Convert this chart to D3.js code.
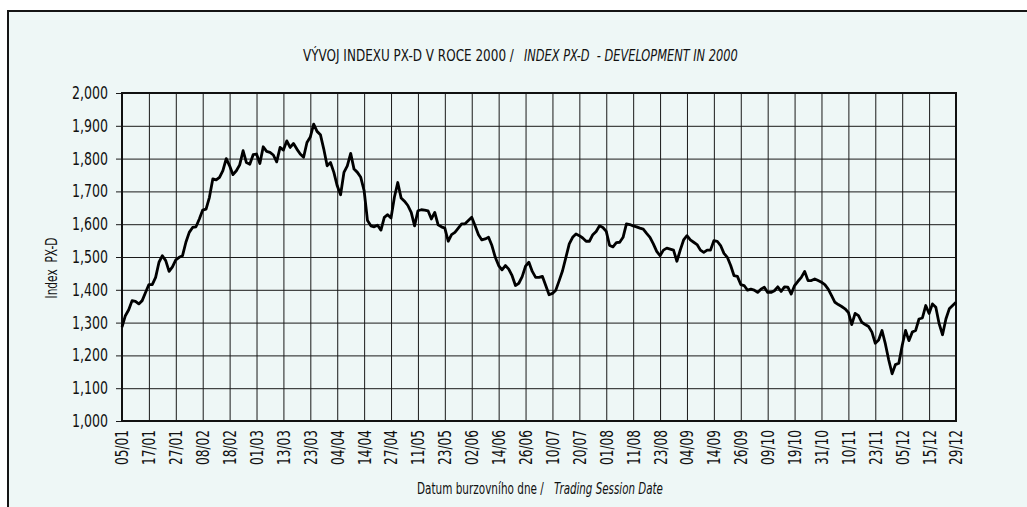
<!DOCTYPE html>
<html lang="cs">
<head>
<meta charset="UTF-8">
<title>Index PX-D 2000</title>
<script src="https://cdn.jsdelivr.net/npm/d3@7/dist/d3.min.js"></script>
<style>
  * { margin: 0; padding: 0; }
  body { background: #fff; width: 1027px; height: 507px; overflow: hidden; }
  svg { display: block; }
  text { font-family: "Liberation Sans Narrow", "DejaVu Sans Condensed", "Roboto", sans-serif; font-stretch: condensed; fill: #111; }
</style>
</head>
<body>
<svg id="chart" width="1027" height="507"></svg>
<script>
// session tick labels (every 8th trading session)
const tickLabels = ['05/01','17/01','27/01','08/02','18/02','01/03','13/03','23/03','04/04','14/04','27/04','11/05',
  '23/05','02/06','14/06','26/06','10/07','20/07','01/08','11/08','23/08','04/09','14/09','26/09','09/10','19/10',
  '31/10','10/11','23/11','05/12','15/12','29/12'];
const yTicks = [1000, 1100, 1200, 1300, 1400, 1500, 1600, 1700, 1800, 1900, 2000];

// daily closing values of PX-D (249 sessions)
const pxd = [
  1286,1321,1339,1367,1365,1357,1367,1392,1416,
  1416,1438,1484,1504,1489,1456,1470,1491,
  1499,1504,1545,1575,1590,1592,1616,1643,
  1646,1682,1738,1735,1743,1763,1800,1778,
  1751,1763,1781,1824,1788,1783,1812,1814,
  1785,1836,1822,1819,1811,1790,1834,1826,
  1854,1834,1846,1829,1814,1804,1849,1866,
  1905,1883,1873,1829,1778,1788,1758,1717,
  1690,1758,1778,1816,1768,1758,1743,1702,
  1611,1595,1592,1597,1582,1621,1629,1619,
  1682,1727,1680,1670,1657,1636,1595,1641,
  1644,1643,1641,1616,1636,1598,1592,1588,
  1548,1568,1575,1588,1601,1601,1611,1621,
  1595,1568,1552,1555,1560,1535,1499,1474,
  1461,1474,1463,1443,1413,1420,1440,1472,
  1484,1456,1438,1438,1441,1413,1385,1389,
  1399,1428,1458,1499,1540,1560,1570,1565,
  1558,1548,1548,1568,1578,1595,1590,1578,
  1535,1531,1544,1545,1560,1601,1599,1595,
  1592,1588,1585,1572,1560,1540,1517,1504,
  1521,1527,1524,1521,1487,1521,1552,1565,
  1552,1545,1538,1521,1514,1521,1521,1550,
  1548,1535,1511,1499,1474,1443,1441,1416,
  1413,1399,1402,1399,1392,1402,1408,1392,
  1392,1397,1409,1395,1409,1408,1387,1413,
  1426,1438,1456,1428,1428,1433,1428,1423,
  1416,1402,1382,1362,1355,1349,1342,1331,
  1294,1328,1321,1301,1294,1288,1271,1237,
  1247,1276,1235,1186,1144,1172,1176,1230,
  1276,1245,1271,1276,1311,1314,1352,1328,
  1357,1347,1296,1263,1311,1342,1352,1362
];

const W = 1027, H = 507;
const plot = { left: 122, right: 956, top: 93, bottom: 421 };
const svg = d3.select('#chart');

// background panel with frame on top + left
svg.append('rect').attr('x', 8).attr('y', 11).attr('width', W - 8).attr('height', H - 11).attr('fill', '#eef7f6');
svg.append('path').attr('d', `M8,${H} V11 H${W}`).attr('fill', 'none').attr('stroke', '#151515').attr('stroke-width', 2);

const x = d3.scaleLinear().domain([0, pxd.length - 1]).range([plot.left, plot.right]);
const y = d3.scaleLinear().domain([1000, 2000]).range([plot.bottom, plot.top]);
const sessionTicks = tickLabels.map((d, i) => i * 8);

// grid
svg.append('g')
  .attr('transform', `translate(0,${plot.bottom})`)
  .call(d3.axisBottom(x).tickValues(sessionTicks).tickSize(-(plot.bottom - plot.top)).tickFormat(''))
  .call(g => g.select('.domain').remove())
  .call(g => g.selectAll('line').attr('stroke', '#1a1a1a').attr('stroke-width', 1));

svg.append('g')
  .attr('transform', `translate(${plot.left},0)`)
  .call(d3.axisLeft(y).tickValues(yTicks).tickSize(plot.left - plot.right).tickFormat(''))
  .call(g => g.select('.domain').remove())
  .call(g => g.selectAll('line').attr('stroke', '#1a1a1a').attr('stroke-width', 1));

// y axis with outer ticks
svg.append('g')
  .attr('transform', `translate(${plot.left},0)`)
  .call(d3.axisLeft(y).tickValues(yTicks).tickSize(6).tickPadding(8).tickFormat(d3.format(',')))
  .call(g => g.select('.domain').remove())
  .call(g => g.selectAll('line').attr('stroke', '#1a1a1a'))
  .call(g => g.selectAll('text').attr('font-size', 17).attr('fill', '#111')
    .attr('font-family', null)
    .attr('textLength', 36).attr('lengthAdjust', 'spacingAndGlyphs'));

// x axis labels rotated
svg.append('g')
  .attr('transform', `translate(0,${plot.bottom})`)
  .call(d3.axisBottom(x).tickValues(sessionTicks).tickSize(0).tickPadding(0).tickFormat((d, i) => tickLabels[i]))
  .call(g => g.select('.domain').remove())
  .call(g => g.selectAll('text')
    .attr('font-size', 17).attr('fill', '#111').attr('font-family', null)
    .attr('text-anchor', 'end')
    .attr('transform', 'rotate(-90)')
    .attr('textLength', 35).attr('lengthAdjust', 'spacingAndGlyphs')
    .attr('x', -9).attr('y', 0).attr('dy', '0.35em'));

// plot border
svg.append('rect')
  .attr('x', plot.left).attr('y', plot.top)
  .attr('width', plot.right - plot.left).attr('height', plot.bottom - plot.top)
  .attr('fill', 'none').attr('stroke', '#111').attr('stroke-width', 2);

// the index line
const line = d3.line().x((d, i) => x(i)).y(d => y(d));
svg.append('path').datum(pxd)
  .attr('d', line)
  .attr('fill', 'none').attr('stroke', '#000').attr('stroke-width', 2.8)
  .attr('stroke-linejoin', 'round');

// titles: each part squeezed horizontally to the width it has in the reference
function fitted(txt, x0, y0, len, size, italic) {
  const t = svg.append('text')
    .attr('font-size', size)
    .attr('font-style', italic ? 'italic' : null)
    .style('white-space', 'pre')
    .text(txt);
  const w = t.node().getComputedTextLength();
  t.attr('transform', `translate(${x0},${y0}) scale(${len / w},1)`);
  return t;
}
fitted('VÝVOJ INDEXU PX-D V ROCE 2000 /', 303, 61, 211, 16, false);
fitted('INDEX PX-D  - DEVELOPMENT IN 2000', 524, 61, 214, 16, true);
fitted('Datum burzovního dne /', 417, 494, 127, 15, false);
fitted('Trading Session Date', 554, 494, 109, 15, true);

svg.append('text')
  .attr('transform', 'translate(57,268) rotate(-90)')
  .attr('text-anchor', 'middle').attr('font-size', 15)
  .attr('textLength', 61).attr('lengthAdjust', 'spacingAndGlyphs')
  .style('white-space', 'pre')
  .text('Index  PX-D');
</script>
</body>
</html>
